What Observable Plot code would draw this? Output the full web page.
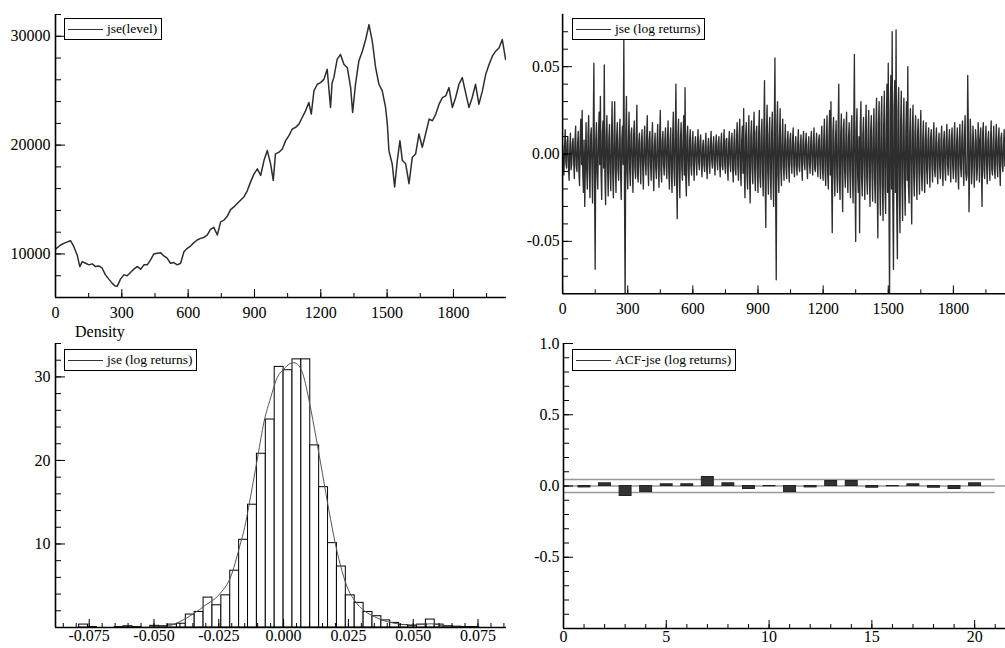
<!DOCTYPE html>
<html><head><meta charset="utf-8">
<script src="https://cdn.jsdelivr.net/npm/d3@7"></script>
<script src="https://cdn.jsdelivr.net/npm/@observablehq/plot@0.6"></script>
<style>
html,body{margin:0;padding:0;background:#fff;overflow:hidden;}
#page{position:relative;width:1005px;height:648px;overflow:hidden;background:#fff;font-family:"Liberation Serif","Times New Roman",serif;}
.panel{position:absolute;}
.panel svg{background:transparent;overflow:visible;}
.legend{position:absolute;box-sizing:border-box;border:1px solid #000;background:#fff;font-size:13.5px;height:22px;padding:0 4px 0 3px;white-space:nowrap;display:flex;align-items:center;color:#000;}
.legend .sw{display:inline-block;width:35px;border-top:1px solid #333;margin-right:4px;}
.lab{position:absolute;font-size:16px;color:#000;white-space:nowrap;}
</style></head><body><div id="page"></div>
<script>
// ---------- data ----------
const levelIdx = [0,23,45,68,83,98,110,121,136,151,166,181,196,211,226,241,256,268,279,294,309,324,339,354,370,385,400,415,430,445,460,475,490,505,520,535,551,566,581,596,611,626,641,656,671,686,701,716,732,747,762,777,792,807,822,837,852,867,882,897,913,928,943,958,973,985,995,1011,1026,1041,1056,1071,1086,1101,1116,1131,1146,1157,1169,1184,1199,1214,1229,1244,1251,1259,1274,1289,1305,1320,1335,1344,1357,1372,1388,1403,1418,1433,1448,1463,1478,1493,1501,1508,1523,1534,1546,1558,1569,1584,1599,1614,1629,1644,1659,1674,1690,1705,1720,1735,1750,1765,1780,1795,1810,1825,1840,1855,1870,1885,1900,1915,1931,1946,1961,1976,1991,2006,2021,2036];
const levelVal = [10450,10820,11040,11220,10670,9910,8840,9300,9150,9000,9090,8840,8900,8690,8080,7690,7320,7080,7020,7690,8080,7990,8300,8600,8840,8600,9000,9000,9450,10000,10060,10120,9820,9610,9150,9210,9000,9150,10210,10520,10730,11040,11280,11430,11520,11740,12250,12440,11740,12950,13110,13470,14080,14320,14630,14930,15240,15780,16600,17310,17820,17210,18580,19500,18280,16760,19190,19350,19650,20410,20870,21480,21630,21930,22540,23150,23910,22850,24980,25590,25740,26040,26960,23460,25700,26200,27870,28330,27410,27110,25280,23000,25590,27720,28630,29700,31070,29540,27110,25590,24980,23460,21930,19500,18280,16150,18580,20410,18580,18280,16460,18890,19190,21020,19800,21020,22390,22240,22850,23760,24370,24520,25280,23460,24370,25590,26200,24830,23460,24370,25590,23760,24980,26500,27410,28170,28630,28930,29700,27870];

// log returns, in thousandths: one value every 6 observations, plus the value 3 observations later
const returnStep = 6;
const returnsMilli = [
5,-12,14,-8,10,-15,12,-6,9,-14,16,-10,13,-18,20,25,-22,-30,18,-20,
22,-25,15,-28,52,-66,18,-20,24,33,-26,19,51,-29,22,-24,17,-21,30,-25,
30,-22,18,-15,20,-26,16,67,-85,33,-20,24,-18,15,-22,19,-14,28,-16,12,
-17,14,-20,16,-12,22,-18,13,-15,18,-21,12,-14,17,-19,25,-16,13,-12,15,
-14,19,-20,15,-22,24,-18,40,-37,20,-25,18,-15,22,38,-24,16,-18,14,-12,
13,-15,10,-12,14,-9,11,-13,8,-10,12,-14,9,-11,13,-8,10,-12,11,-9,
10,-13,12,-9,14,-11,9,-15,13,-10,12,-16,14,-12,18,-15,20,-18,16,26,
-25,18,-20,22,-28,19,-17,24,-21,16,-22,25,-19,20,-24,42,-42,28,-23,21,
-26,24,-30,55,-72,30,-22,26,-18,20,-15,17,-14,13,-16,12,-11,15,-13,10,
-12,14,-10,11,-15,13,-9,12,-14,10,-11,13,-12,15,-10,12,-13,11,-14,16,
-15,20,-18,22,-20,25,30,-45,21,-24,19,-22,40,-26,23,-33,20,-19,24,-22,
18,-25,22,-28,57,-50,26,-22,-45,30,-24,21,-26,28,-23,25,-30,22,-27,26,
-28,32,-48,30,-35,33,-38,36,-34,40,52,-85,45,70,-66,42,71,-60,38,-45,
36,-38,32,-35,30,50,-28,26,-40,28,-24,22,-26,20,-23,25,-21,19,-22,18,
-17,15,-19,14,-16,18,-13,15,-17,12,-14,16,-18,13,-15,17,-12,14,-16,15,
-14,18,-16,15,-20,17,-13,19,-18,22,-15,45,-33,20,-17,16,-19,14,-15,18,
-16,15,-30,18,-14,16,-17,13,-15,19,-12,16,-14,17,-13,15,-18,12,-10,14];
const returnsMidMilli = [
-6,4,-5,7,-8,3,-9,6,-4,8,-7,5,-10,9,-6,-12,8,-5,-9,11,
-9,10,-7,12,-15,8,-11,9,-6,-10,12,-8,-14,10,-7,9,-11,8,-12,10,
-8,10,-9,7,-11,9,-6,-20,12,-10,8,-9,11,-7,10,-8,9,-12,7,-6,
7,-8,6,-5,9,-7,8,-6,7,-9,5,-8,6,-7,10,-9,7,-6,8,-7,
9,-10,8,-11,10,-9,12,-14,11,-10,9,-8,10,-12,-13,10,-9,8,-7,6,
-6,5,-4,6,-5,7,-5,4,-6,5,-7,4,-5,6,-4,5,-6,5,-4,6,
-5,6,-7,5,-6,8,-7,6,-5,7,-8,6,-9,8,-7,10,-9,8,-11,-10,
10,-11,9,-12,10,-8,11,-10,12,-9,11,-13,10,-11,14,-15,12,-10,11,-12,
12,-11,14,-18,16,-12,10,-9,8,-7,6,-8,7,-6,8,-5,7,-6,5,-7,
6,-7,5,-6,7,-5,6,-7,5,-6,7,-5,6,-8,5,-6,7,-5,8,-9,
9,-10,8,-11,10,-12,-14,12,-10,9,-11,13,-15,11,-12,14,-9,10,-11,9,
-10,12,-11,13,-16,14,-12,10,15,-13,11,-10,12,-14,11,-12,13,-11,12,-14,
15,-17,18,-16,19,-18,17,-20,18,-22,-25,24,-20,-28,26,-22,-30,25,-20,18,
-16,15,-14,13,-15,-18,12,-14,13,-11,12,-10,11,-9,10,-11,9,-10,8,-9,
8,-7,9,-6,8,-9,7,-8,6,-7,8,-9,7,-8,9,-6,7,-8,9,-7,
8,-9,7,-10,8,-7,9,-8,10,-11,-12,14,-10,9,-8,7,-9,8,-7,9,
7,-8,12,-9,6,-7,8,-6,7,-9,6,-8,7,-6,8,-7,9,-6,5,-7];

// histogram: bins of width histBinWidth, first bin index histFirstBin
const histBinWidth = 0.00343;
const histFirstBin = -24;
const histDensity = [0,0.35,0.05,0,0,0.05,0.15,0.05,0,0.2,0.15,0.35,0.45,1.55,1.86,3.58,2.66,3.85,6.8,10.5,14.7,20.8,24.9,31.2,30.8,32.1,32.1,21.8,16.8,10.1,7.3,3.85,2.95,1.86,1.35,0.85,0.55,0.3,0.2,0.35,0.95,0.35,0.15,0.1,0.05,0.05];

const densX = [-0.060,-0.050,-0.045,-0.040,-0.035,-0.030,-0.025,-0.020,-0.0167,-0.015,-0.0135,-0.010,-0.0075,-0.005,-0.0025,0,0.0025,0.0039,0.005,0.0075,0.010,0.0125,0.015,0.0175,0.020,0.0225,0.025,0.0275,0.030,0.035,0.040,0.045,0.050,0.057,0.062,0.068];
const densY = [0.0,0.05,0.15,0.7,1.6,2.7,3.9,6.4,10,12,14.4,20.4,24.7,27.5,29.9,30.9,31.6,31.7,31.6,30.3,26.9,22.8,18.4,14.0,10.0,6.8,4.5,3.2,2.3,1.3,0.7,0.4,0.3,0.45,0.15,0.05];

const acfLag = [1,2,3,4,5,6,7,8,9,10,11,12,13,14,15,16,17,18,19,20];
const acfVal = [-0.010,0.019,-0.070,-0.042,0.012,0.012,0.063,0.019,-0.021,-0.002,-0.042,-0.010,0.035,0.035,-0.012,-0.002,0.012,-0.012,-0.021,0.019];
const acfBand = 0.0456;

// tick values
const p1xMinor = d3.range(0, 2000, 150), p1xMajor = d3.range(0, 2000, 300);
const p1yMinor = d3.range(8000, 32001, 2000), p1yMajor = [10000, 20000, 30000];
const p2yMinor = d3.range(-7, 8).map(d => d / 100), p2yMajor = [-0.05, 0, 0.05];
const p3xMinor = d3.range(-17, 18).map(d => d * 0.005), p3xMajor = [-0.075,-0.05,-0.025,0,0.025,0.05,0.075];
const p3yMinor = d3.range(2, 35, 2), p3yMajor = [10, 20, 30];
const p4xMinor = d3.range(1, 22), p4xMajor = [0, 5, 10, 15, 20];
const p4yMinor = d3.range(-9, 11).map(d => d / 10), p4yMajor = [-0.5, 0, 0.5, 1.0];

// ---------- build ----------
const page = document.getElementById("page");
const ink = "#2e2e2e";

function makePanel(cfg) {
  const [mt, mr, mb, ml] = cfg.margin;
  const iw = cfg.width - ml - mr, ih = cfg.height - mt - mb;
  const marks = [
    ...cfg.marks,
    Plot.ruleX(cfg.xMinor, {x: d => d, insetTop: ih - 4, stroke: "#000"}),
    Plot.ruleX(cfg.xMajor, {x: d => d, insetTop: ih - 8, stroke: "#000"}),
    Plot.ruleY(cfg.yMinor, {y: d => d, insetRight: iw - 6, stroke: "#000"}),
    Plot.ruleY(cfg.yMajor, {y: d => d, insetRight: iw - 10, stroke: "#000"}),
    Plot.ruleX([cfg.xDomain[0]], {stroke: "#000", strokeWidth: 1.6}),
    Plot.ruleY([cfg.yDomain[0]], {stroke: "#000", strokeWidth: 1.6}),
    Plot.axisX(cfg.xMajor, {tickSize: 0, tickPadding: cfg.xPad, tickFormat: cfg.xFmt, fontSize: 16, label: null}),
    Plot.axisY(cfg.yMajor, {tickSize: 0, tickPadding: cfg.yPad, tickFormat: cfg.yFmt, fontSize: 16, label: null})
  ];
  const svg = Plot.plot({
    width: cfg.width, height: cfg.height,
    marginTop: mt, marginRight: mr, marginBottom: mb, marginLeft: ml,
    x: {type: "linear", domain: cfg.xDomain},
    y: {type: "linear", domain: cfg.yDomain},
    style: {fontFamily: '"Liberation Serif","Times New Roman",serif', fontSize: "16px", color: "#000", background: "transparent", overflow: "visible"},
    marks
  });
  const div = document.createElement("div");
  div.className = "panel";
  div.style.left = cfg.left + "px";
  div.style.top = cfg.top + "px";
  div.appendChild(svg);
  page.appendChild(div);
}

function legend(left, top, text) {
  const d = document.createElement("div");
  d.className = "legend";
  d.style.left = left + "px";
  d.style.top = top + "px";
  d.innerHTML = '<span class="sw"></span><span></span>';
  d.lastChild.textContent = text;
  page.appendChild(d);
}

// Panel 1: level
const levelData = levelIdx.map((t, i) => ({t, v: levelVal[i]}));
makePanel({
  left: 0, top: 0, width: 510, height: 320, margin: [14, 4, 23, 55],
  xDomain: [0, 2040], yDomain: [6000, 32000],
  xMinor: p1xMinor, xMajor: p1xMajor, yMinor: p1yMinor, yMajor: p1yMajor,
  xFmt: d => String(d), yFmt: d => String(d), xPad: 9, yPad: 5,
  marks: [Plot.line(levelData, {x: "t", y: "v", stroke: ink, strokeWidth: 1.5, clip: true})]
});

// Panel 2: log returns
const retData = [];
returnsMilli.forEach((r, i) => {
  retData.push({t: i * returnStep, r: r / 1000});
  retData.push({t: i * returnStep + returnStep / 2, r: returnsMidMilli[i] / 1000});
});
makePanel({
  left: 507, top: 0, width: 506, height: 320, margin: [14, 0, 22, 56],
  xDomain: [0, 2040], yDomain: [-0.08, 0.08],
  xMinor: p1xMinor, xMajor: p1xMajor, yMinor: p2yMinor, yMajor: p2yMajor,
  xFmt: d => String(d), yFmt: d => d.toFixed(2), xPad: 9, yPad: 3,
  marks: [Plot.line(retData, {x: "t", y: "r", stroke: ink, strokeWidth: 1.35, clip: true})]
});

// Panel 3: histogram + density
const histData = histDensity.map((v, i) => ({x1: (histFirstBin + i) * histBinWidth, x2: (histFirstBin + i + 1) * histBinWidth, y: v}));
const densData = densX.map((x, i) => ({x, y: densY[i]}));
makePanel({
  left: 0, top: 320, width: 510, height: 328, margin: [23, 4, 21, 55],
  xDomain: [-0.088, 0.086], yDomain: [0, 34],
  xMinor: p3xMinor, xMajor: p3xMajor, yMinor: p3yMinor, yMajor: p3yMajor,
  xFmt: d => d.toFixed(3), yFmt: d => String(d), xPad: 2, yPad: 5,
  marks: [
    Plot.rectY(histData, {x1: "x1", x2: "x2", y: "y", fill: "#fff", stroke: "#000", strokeWidth: 1}),
    Plot.line(densData, {x: "x", y: "y", stroke: "#555", strokeWidth: 1, curve: "monotone-x"})
  ]
});

// Panel 4: ACF
const acfData = acfLag.map((l, i) => ({x1: l - 0.27, x2: l + 0.31, v: acfVal[i]}));
makePanel({
  left: 507, top: 320, width: 498, height: 328, margin: [23, 0, 20, 56],
  xDomain: [0, 21.5], yDomain: [-1, 1],
  xMinor: p4xMinor, xMajor: p4xMajor, yMinor: p4yMinor, yMajor: p4yMajor,
  xFmt: d => String(d), yFmt: d => d.toFixed(1), xPad: 2, yPad: 4,
  marks: [
    Plot.ruleY([0], {stroke: "#999", strokeWidth: 1.5}),
    Plot.ruleY([acfBand, -acfBand], {x1: 0, x2: 21, stroke: "#999", strokeWidth: 1.5}),
    Plot.rect(acfData, {x1: "x1", x2: "x2", y1: 0, y2: "v", fill: "#333", stroke: "#222", strokeWidth: 1})
  ]
});

legend(64, 18, "jse(level)");
legend(572, 18, "jse (log returns)");
legend(64, 349, "jse (log returns)");
legend(572, 349, "ACF-jse (log returns)");

const dens = document.createElement("div");
dens.className = "lab";
dens.style.left = "75px";
dens.style.top = "323px";
dens.textContent = "Density";
page.appendChild(dens);
</script></body></html>
